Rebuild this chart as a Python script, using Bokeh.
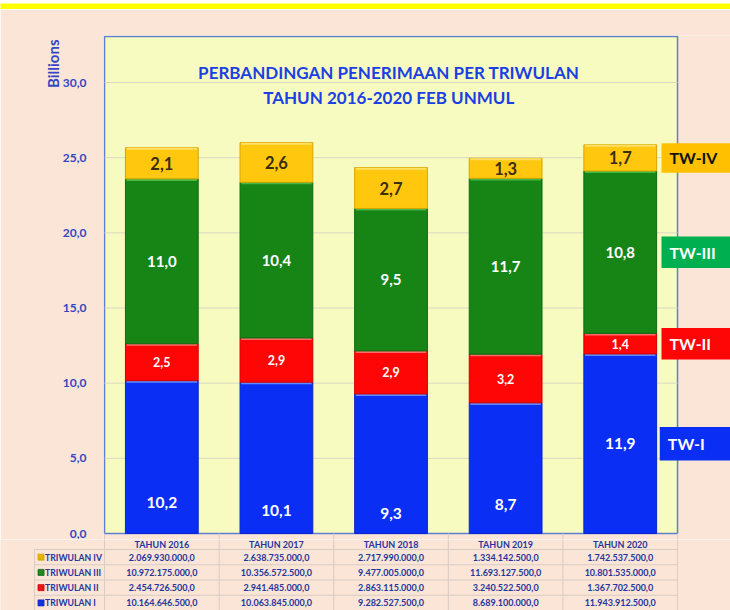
import numpy as np
from bokeh.plotting import figure
from bokeh.models import ColumnDataSource, Range1d, FixedTicker, CustomJSTickFormatter, Title
from bokeh.layouts import column
from bokeh.core.properties import value
from bokeh.embed import file_html
from bokeh.resources import INLINE

# ---------------- data ----------------
YEARS = ["TAHUN 2016", "TAHUN 2017", "TAHUN 2018", "TAHUN 2019", "TAHUN 2020"]
TW_I = [10164646500.0, 10063845000.0, 9282527500.0, 8689100000.0, 11943912500.0]
TW_II = [2454726500.0, 2941485000.0, 2863115000.0, 3240522500.0, 1367702500.0]
TW_III = [10972175000.0, 10356572500.0, 9477005000.0, 11693127500.0, 10801535000.0]
TW_IV = [2069930000.0, 2638735000.0, 2717990000.0, 1334142500.0, 1742537500.0]
ROW_NAMES = ["TRIWULAN I", "TRIWULAN II", "TRIWULAN III", "TRIWULAN IV"]
TAGS = ["TW-I", "TW-II", "TW-III", "TW-IV"]
Y_TICKS = [0, 5, 10, 15, 20, 25, 30]
TITLE1 = "PERBANDINGAN PENERIMAAN PER TRIWULAN"
TITLE2 = "TAHUN 2016-2020 FEB UNMUL"
Y_LABEL = "Billions"

# ---------------- style ----------------
PEACH = "#FAE5D7"
YELLOW_BAND = "#FFFF00"
PLOT_BG = "#F7FBBF"
BAR_COLORS = ["#0B2EF4", "#FF0606", "#168516", "#FFC80E"]
BAR_EDGES = ["#0A26C8", "#D00000", "#106A10", "#D8A500"]
BAR_HILITE = ["#5C8CFF", "#FF6A6A", "#45B845", "#FFE066"]
TAG_COLORS = ["#0B2EF4", "#FF0606", "#00B050", "#FFC000"]
SQUARE_COLORS = ["#1632E0", "#E81818", "#1E8A1E", "#E0B400"]
TAG_TEXT = ["white", "white", "white", "#111111"]
LBL_COLORS = ["white", "white", "white", "#3A2E10"]
LBL_SIZES = ["15.5px", "12.5px", "15px", "16.5px"]
BLUE_LABEL_FRAC = [0.20, 0.15, 0.14, 0.22, 0.5]
AXIS_BLUE = "#3447C4"
TITLE_BLUE = "#1B3FE3"
TABLE_BLUE = "#26359E"
TABLE_LINE = "#D9CCC3"
FONT = "Lato"

PX_X = 114.6          # pixels per category
PX_Y = 451.0 / 30.0   # pixels per billion
W = 730
BAND_H = 9
H = 530               # chart figure height (page rows 9..539)
T_H = 71              # table figure height (page rows 539..610)
LEFT = 103
TOP = 26
frame_w = W - LEFT
frame_h = H - TOP
ZERO_PX = 533 - BAND_H - TOP   # pixels from frame top to the zero line
HEADER_PX = 10                 # part of the header row inside the table figure
ROW_PX = 15.25

n = len(YEARS)
xs = np.arange(n) + 0.5
series = [np.array(s) / 1e9 for s in (TW_I, TW_II, TW_III, TW_IV)]
bottoms = []
tops = []
acc = np.zeros(n)
for s in series:
    bottoms.append(acc.copy())
    acc = acc + s
    tops.append(acc.copy())

y_top = ZERO_PX / PX_Y
y_bot = -(frame_h - ZERO_PX) / PX_Y
x0 = -0.009

# ---------------- band ----------------
band = figure(width=W, height=BAND_H, output_backend="svg", toolbar_location=None,
              background_fill_color=YELLOW_BAND, border_fill_color=YELLOW_BAND,
              outline_line_color=None, min_border=0, frame_align=False,
              x_axis_location=None, y_axis_location=None)
band.grid.visible = False
band.scatter(x=[0], y=[0], size=0, alpha=0)

# ---------------- chart figure ----------------
p = figure(width=W, height=H,
           x_range=Range1d(x0, x0 + frame_w / PX_X),
           y_range=Range1d(y_bot, y_top),
           output_backend="svg", toolbar_location=None,
           background_fill_color=PEACH, border_fill_color=PEACH,
           outline_line_color=None,
           min_border_left=LEFT, min_border_right=0,
           min_border_top=TOP, min_border_bottom=0,
           x_axis_location=None, frame_align=False)
p.grid.visible = False

yax = p.yaxis[0]
yax.ticker = FixedTicker(ticks=Y_TICKS)
yax.formatter = CustomJSTickFormatter(code="return tick.toFixed(1).replace('.', ',');")
yax.axis_line_color = None
yax.major_tick_line_color = None
yax.minor_tick_line_color = None
yax.major_label_text_font = FONT
yax.major_label_text_font_style = "bold"
yax.major_label_text_font_size = "12px"
yax.major_label_text_color = AXIS_BLUE
yax.major_label_standoff = 11

ttl = Title(text=Y_LABEL, align="right", text_font=FONT, text_font_style="bold",
            text_font_size="15px", text_color=AXIS_BLUE, standoff=-5, offset=4)
p.add_layout(ttl, "left")

plot_top = (ZERO_PX - 1) / PX_Y
p.quad(left=[0], right=[n], bottom=[0], top=[plot_top],
       fill_color=PLOT_BG, line_color="#5E7FD0", line_width=1.5)
p.segment(x0=[0] * (len(Y_TICKS) - 1), x1=[n] * (len(Y_TICKS) - 1),
          y0=Y_TICKS[1:], y1=Y_TICKS[1:], line_color="#D8D8C4", line_width=1)
vx = list(range(n + 1))
p.segment(x0=vx, x1=vx, y0=[0] * len(vx), y1=[y_bot] * len(vx),
          line_color=TABLE_LINE, line_width=1)

# chart title
p.text(x=[n / 2 - 0.02, n / 2 - 0.02], y=[30.67, 29.0], text=[TITLE1, TITLE2],
       text_align="center", text_baseline="middle", text_color=TITLE_BLUE,
       text_font=value(FONT), text_font_style="bold", text_font_size="17px")

BW = 0.635
for i, s in enumerate(series):
    src = ColumnDataSource(dict(x=xs, b=bottoms[i], t=tops[i]))
    p.vbar(x="x", width=BW, bottom="b", top="t", source=src,
           fill_color=BAR_COLORS[i], line_color=BAR_EDGES[i], line_width=1)
    p.segment(x0=xs - BW / 2 + 0.01, x1=xs + BW / 2 - 0.01,
              y0=tops[i] - 0.07, y1=tops[i] - 0.07,
              line_color=BAR_HILITE[i], line_width=2)

for i, s in enumerate(series):
    if i == 0:
        ly = bottoms[i] + s * np.array(BLUE_LABEL_FRAC)
    else:
        ly = bottoms[i] + s / 2
    txt = [f"{v:.1f}".replace(".", ",") for v in s]
    p.text(x=xs, y=ly, text=txt, text_align="center", text_baseline="middle",
           text_color=LBL_COLORS[i], text_font=value(FONT),
           text_font_style="bold", text_font_size=LBL_SIZES[i])

# right-hand tags anchored to last bar segments
tag_mid = [bottoms[i][-1] + series[i][-1] / 2 for i in range(4)]
tag_left = [4.845, 4.86, 4.86, 4.86]
tag_half = [1.12, 1.05, 1.05, 0.98]
for i in range(4):
    p.quad(left=[tag_left[i]], right=[5.6], bottom=[tag_mid[i] - tag_half[i]],
           top=[tag_mid[i] + tag_half[i]], fill_color=TAG_COLORS[i], line_color=None)
    p.text(x=[tag_left[i] + 0.07], y=[tag_mid[i]], text=[TAGS[i]], text_align="left",
           text_baseline="middle", text_color=TAG_TEXT[i], text_font=value(FONT),
           text_font_style="bold", text_font_size="16px")

# ---------------- table figure (y in pixels, 0 at its top) ----------------
tb = figure(width=W, height=T_H,
            x_range=Range1d(x0 - LEFT / PX_X, x0 + frame_w / PX_X),
            y_range=Range1d(-T_H, 0),
            output_backend="svg", toolbar_location=None,
            background_fill_color=PEACH, border_fill_color=PEACH,
            outline_line_color=None, min_border=0, frame_align=False,
            x_axis_location=None, y_axis_location=None)
tb.grid.visible = False

lab_left = -70 / PX_X
row_lines = [-HEADER_PX - k * ROW_PX for k in range(4)]
tb.segment(x0=vx, x1=vx, y0=[0] * len(vx), y1=[-T_H] * len(vx),
           line_color=TABLE_LINE, line_width=1)
tb.segment(x0=[lab_left], x1=[lab_left], y0=[row_lines[0]], y1=[-T_H],
           line_color=TABLE_LINE, line_width=1)
tb.segment(x0=[lab_left] * 4, x1=[n] * 4, y0=row_lines, y1=row_lines,
           line_color=TABLE_LINE, line_width=1)

tb.text(x=xs, y=[-HEADER_PX / 2 + 0.5] * n, text=YEARS, text_align="center",
        text_baseline="middle", text_color=TABLE_BLUE, text_font=value(FONT),
        text_font_style="bold", text_font_size="9px")


def fmt_id(v):
    return f"{v:,.1f}".replace(",", "X").replace(".", ",").replace("X", ".")


raw = [TW_I, TW_II, TW_III, TW_IV]
for i in range(4):
    k = 3 - i   # IV on top
    yrow = -HEADER_PX - (k + 0.5) * ROW_PX
    tb.text(x=xs, y=[yrow] * n, text=[fmt_id(v) for v in raw[i]], text_align="center",
            text_baseline="middle", text_color=TABLE_BLUE, text_font=value(FONT),
            text_font_style="bold", text_font_size="9px")
    tb.scatter(x=[lab_left + 6.5 / PX_X], y=[yrow], marker="square", size=6,
               fill_color=SQUARE_COLORS[i], line_color=BAR_EDGES[i], line_width=0.8)
    tb.text(x=[lab_left + 10.5 / PX_X], y=[yrow], text=[ROW_NAMES[i]], text_align="left",
            text_baseline="middle", text_color=TABLE_BLUE, text_font=value(FONT),
            text_font_style="bold", text_font_size="8.7px")

layout = column(band, p, tb, spacing=0)
open("out.html", "w").write(file_html(layout, INLINE))
